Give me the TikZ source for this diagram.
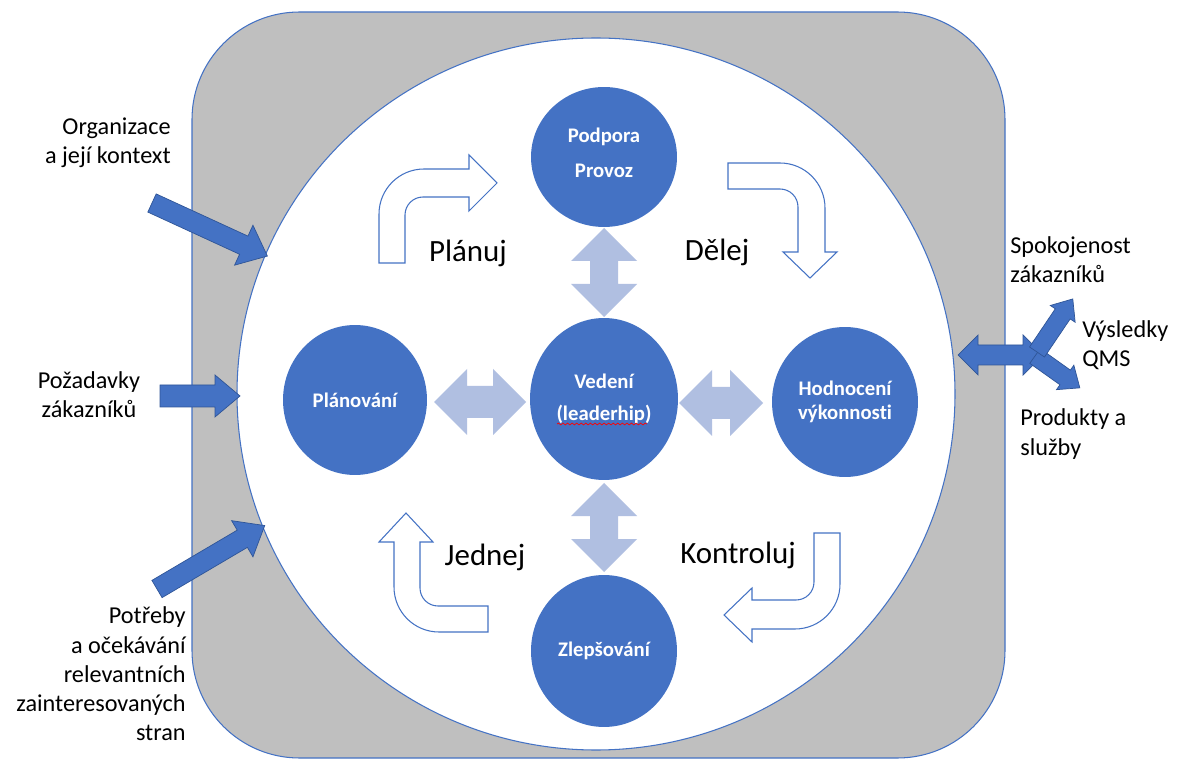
\documentclass[tikz,border=0pt]{standalone}
\usepackage{fontspec}
\setmainfont{Carlito}[RawFeature={-liga}]
\usetikzlibrary{shapes.geometric,decorations.pathmorphing}
\definecolor{accent}{HTML}{4472C4}
\definecolor{accentdark}{HTML}{2F5597}
\definecolor{lightacc}{HTML}{B0BFE1}
\definecolor{framegray}{HTML}{BFBFBF}
\begin{document}
\begin{tikzpicture}[x=0.02cm,y=-0.02cm,
  frameline/.style={draw=accent, line width=0.6pt},
  bcirc/.style={ellipse, fill=accent, inner sep=0pt, text=white, align=center},
  cfont/.style={font=\bfseries\fontsize{11.8}{#1}\selectfont},
  lightarrow/.style={fill=lightacc, draw=none},
  bentarrow/.style={draw=accent, line width=0.6pt, fill=white, line join=miter},
  darkarrow/.style={fill=accent, draw=accentdark, line width=0.4pt, line join=miter},
  lbl/.style={font=\fontsize{13.8}{16.6}\selectfont, inner sep=0pt},
  biglbl/.style={font=\fontsize{17.6}{20}\selectfont, inner sep=0pt, anchor=base},
]
\useasboundingbox (0,0) rectangle (1181,760);

% frame and inner circle
\draw[frameline, fill=framegray, rounded corners=2.15cm] (192,12) rectangle (1005,758);
\draw[frameline, fill=white] (596,394) ellipse [x radius=359, y radius=356];

% blue circles
\node[bcirc, minimum width=2.92cm, minimum height=2.8cm] (podpora) at (604,157) {};
\node[cfont=19.8, text=white, align=center, inner sep=0pt] (podporatext) at (604,153) {Podpora\\Provoz};
\node[bcirc, cfont=18.1, minimum width=2.96cm, minimum height=3.24cm] (vedeni) at (604,399) {Vedení\\(leaderhip)};
\node[bcirc, cfont=14, minimum width=2.88cm, minimum height=3.0cm] (planovani) at (355,400) {Plánování};
\node[bcirc, cfont=13.6, minimum width=2.92cm, minimum height=3.0cm] (hodnoceni) at (845,402) {Hodnocení\\výkonnosti};
\node[bcirc, cfont=14, minimum width=2.92cm, minimum height=3.04cm] (zlepsovani) at (604,651) {Zlepšování};
\draw[red, line width=0.4pt, decorate, decoration={snake, amplitude=0.5pt, segment length=2.6pt}] (557,424) -- (647,424);

% light double arrows
\fill[lightarrow] (604,228) -- (637,261) -- (618,261) -- (618,284) -- (637,284) -- (604,317) -- (571,284) -- (590,284) -- (590,261) -- (571,261) -- cycle;
\fill[lightarrow] (604,483) -- (637,516) -- (618,516) -- (618,539) -- (637,539) -- (604,572) -- (571,539) -- (590,539) -- (590,516) -- (571,516) -- cycle;
\fill[lightarrow] (434,402) -- (467,369) -- (467,386) -- (493,386) -- (493,369) -- (526,402) -- (493,435) -- (493,418) -- (467,418) -- (467,435) -- cycle;
\fill[lightarrow] (679,403) -- (712,370) -- (712,387) -- (730,387) -- (730,370) -- (763,403) -- (730,436) -- (730,419) -- (712,419) -- (712,436) -- cycle;

% bent outlined arrows
\draw[bentarrow] (379,263) -- (379,214) arc[start angle=180, end angle=270, radius=45] -- (469,169) -- (469,155) -- (497,183) -- (469,211) -- (469,197) -- (423,197) arc[start angle=270, end angle=180, radius=18] -- (405,263) -- cycle;
\draw[bentarrow] (728,163) -- (780,163) arc[start angle=270, end angle=360, radius=45] -- (825,252) -- (837,252) -- (810,278) -- (783,252) -- (798,252) -- (798,207) arc[start angle=0, end angle=-90, radius=18] -- (728,189) -- cycle;
\draw[bentarrow] (488,632) -- (439,632) arc[start angle=90, end angle=180, radius=45] -- (394,542) -- (379,542) -- (406,513) -- (433,542) -- (420,542) -- (420,588) arc[start angle=180, end angle=90, radius=18] -- (488,606) -- cycle;
\draw[bentarrow] (814,533) -- (840,533) -- (840,584) arc[start angle=0, end angle=90, radius=45] -- (752,629) -- (752,642) -- (724,615) -- (752,588) -- (752,600) -- (796,600) arc[start angle=90, end angle=0, radius=18] -- cycle;

% dark input arrows
\draw[darkarrow, shift={(152,203)}, rotate=-24.7] (0,-10) -- (101,-10) -- (101,-22) -- (127,0) -- (101,22) -- (101,10) -- (0,10) -- cycle;
\draw[darkarrow] (160,385) -- (215,385) -- (215,375) -- (240,396) -- (215,417) -- (215,407) -- (160,407) -- cycle;
\draw[darkarrow, shift={(157,589)}, rotate=30.5] (0,-10) -- (99,-10) -- (99,-21) -- (125,0) -- (99,21) -- (99,10) -- (0,10) -- cycle;

% right cluster
\draw[darkarrow] (958,355) -- (978,335) -- (978,345) -- (1023,345) -- (1023,335) -- (1043,355) -- (1023,375) -- (1023,365) -- (978,365) -- (978,375) -- cycle;
\draw[darkarrow, shift={(1035,356)}, rotate=-35.4] (0,-9) -- (37,-9) -- (37,-15) -- (55,0) -- (37,15) -- (37,9) -- (0,9) -- cycle;
\draw[darkarrow, shift={(1037,352)}, rotate=56] (0,-9) -- (46,-9) -- (46,-15) -- (64,0) -- (46,15) -- (46,9) -- (0,9) -- cycle;

% big labels
\node[biglbl] (planuj) at (468,262) {Plánuj};
\node[biglbl] (delej) at (717,261) {Dělej};
\node[biglbl] (jednej) at (485,565) {Jednej};
\node[biglbl] (kontroluj) at (738,563) {Kontroluj};

% outer labels
\node[lbl, align=right, anchor=east] (org) at (171,143) {Organizace\\a její kontext};
\node[lbl, align=center] (poz) at (89,395) {Požadavky\\zákazníků};
\node[lbl, align=right, anchor=east] (potr) at (186,674) {Potřeby\\a očekávání\\relevantních\\zainteresovaných\\stran};
\node[lbl, align=left, anchor=west] (spok) at (1010,260) {Spokojenost\\zákazníků};
\node[lbl, align=left, anchor=west] (vysl) at (1082,345) {Výsledky\\QMS};
\node[lbl, align=left, anchor=west] (prod) at (1020,434) {Produkty a\\služby};
\end{tikzpicture}
\end{document}
